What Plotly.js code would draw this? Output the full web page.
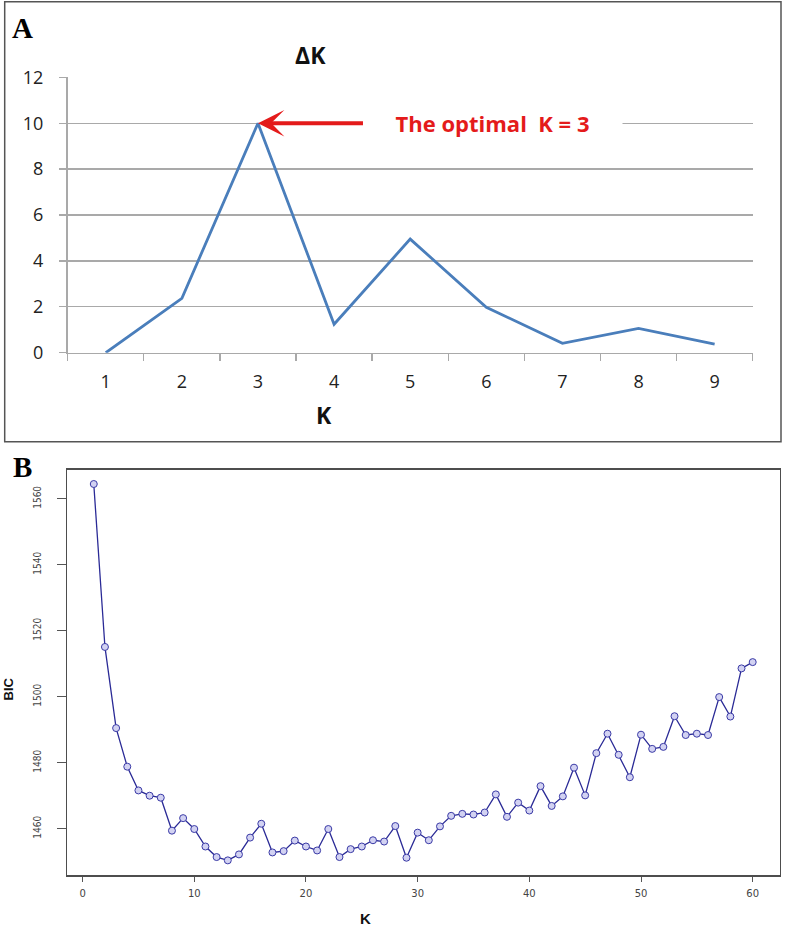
<!DOCTYPE html>
<html>
<head>
<meta charset="utf-8">
<script src="https://cdn.plot.ly/plotly-3.0.1.min.js"></script>
<style>
  html, body { margin: 0; padding: 0; background: #ffffff; }
  #chart { width: 787px; height: 926px; }
</style>
</head>
<body>
<div id="chart"></div>
<script>
// ---- Panel A: Delta K by K ----
const kA = ['1', '2', '3', '4', '5', '6', '7', '8', '9'];
const deltaK = [0, 2.37, 10.0, 1.24, 4.95, 1.98, 0.41, 1.06, 0.37];
const optimalK = '3';
const yTicksA = [0, 2, 4, 6, 8, 10, 12];

// ---- Panel B: BIC by K ----
const kB = [1, 2, 3, 4, 5, 6, 7, 8, 9, 10,
            11, 12, 13, 14, 15, 16, 17, 18, 19, 20,
            21, 22, 23, 24, 25, 26, 27, 28, 29, 30,
            31, 32, 33, 34, 35, 36, 37, 38, 39, 40,
            41, 42, 43, 44, 45, 46, 47, 48, 49, 50,
            51, 52, 53, 54, 55, 56, 57, 58, 59, 60];
const bic = [1564.5, 1515.1, 1490.5, 1478.8, 1471.6, 1470.0, 1469.4, 1459.4, 1463.2, 1459.9,
             1454.6, 1451.4, 1450.4, 1452.2, 1457.3, 1461.5, 1452.8, 1453.2, 1456.4, 1454.6,
             1453.4, 1459.9, 1451.4, 1453.8, 1454.6, 1456.5, 1456.1, 1460.8, 1451.2, 1458.8,
             1456.5, 1460.7, 1463.9, 1464.5, 1464.3, 1464.9, 1470.4, 1463.6, 1467.9, 1465.5,
             1472.9, 1466.9, 1469.8, 1478.5, 1470.1, 1482.9, 1488.8, 1482.4, 1475.6, 1488.5,
             1484.2, 1484.8, 1494.1, 1488.4, 1488.8, 1488.4, 1499.9, 1494.0, 1508.6, 1510.5];
const xTicksB = [0, 10, 20, 30, 40, 50, 60];
const yTicksB = [1460, 1480, 1500, 1520, 1540, 1560];

const W = 787, H = 926;
const px = v => v / W;          // pixel -> paper x
const py = v => 1 - v / H;      // pixel -> paper y

const gridGray = '#a9a9a9';
const fontA = '"Open Sans", Lato, "Liberation Sans", sans-serif';

// category axes take the category's position index for annotations
const optIdx = kA.indexOf(optimalK);

const traceA = {
  x: kA, y: deltaK, xaxis: 'x', yaxis: 'y',
  type: 'scatter', mode: 'lines',
  line: { color: '#4a7ebb', width: 2.8 },
  hoverinfo: 'x+y'
};

const traceB = {
  x: kB, y: bic, xaxis: 'x2', yaxis: 'y2',
  type: 'scatter', mode: 'lines+markers',
  line: { color: '#2a2a96', width: 1.3 },
  marker: { symbol: 'circle', size: 7, color: '#d2d2f2',
            line: { color: '#3a3aa6', width: 1 } },
  hoverinfo: 'x+y'
};

const layout = {
  width: W, height: H,
  margin: { l: 0, r: 0, t: 0, b: 0 },
  paper_bgcolor: '#ffffff',
  plot_bgcolor: '#ffffff',
  showlegend: false,
  xaxis: {
    domain: [px(67.7), px(752.7)], anchor: 'y',
    type: 'category', tickson: 'boundaries',
    range: [-0.5, kA.length - 0.5],
    ticks: 'outside', ticklen: 7, tickcolor: gridGray, tickwidth: 1.3,
    showline: true, linecolor: gridGray, linewidth: 1.3,
    showgrid: false, zeroline: false,
    tickfont: { family: fontA, size: 18, color: '#222222' },
    ticklabelstandoff: 12
  },
  yaxis: {
    domain: [py(352.7), py(77.3)], anchor: 'x',
    range: [0, 12], tickvals: yTicksA,
    showgrid: true, gridcolor: gridGray, gridwidth: 1.3,
    ticks: 'outside', ticklen: 7.5, tickcolor: gridGray, tickwidth: 1.3,
    showline: true, linecolor: gridGray, linewidth: 1.3,
    zeroline: false,
    tickfont: { family: fontA, size: 18, color: '#222222' },
    ticklabelstandoff: 12
  },
  xaxis2: {
    domain: [px(67.3), px(779.5)], anchor: 'y2',
    range: [-1.37, 62.4], tickvals: xTicksB,
    ticks: 'outside', ticklen: 5, tickcolor: '#555555', tickwidth: 1,
    showline: true, mirror: true, linecolor: '#4d4d4d', linewidth: 1.5,
    showgrid: false, zeroline: false,
    tickfont: { family: '"DejaVu Sans", Verdana, sans-serif', size: 10, color: '#444444' },
    ticklabelstandoff: 3
  },
  yaxis2: {
    domain: [py(875), py(469.5)], anchor: 'x2',
    range: [1445.96, 1568.9], tickvals: yTicksB,
    tickangle: -90,
    ticks: 'outside', ticklen: 9, tickcolor: '#555555', tickwidth: 1,
    showline: true, mirror: true, linecolor: '#4d4d4d', linewidth: 1.5,
    showgrid: false, zeroline: false,
    tickfont: { family: '"DejaVu Sans Condensed", "Liberation Sans Narrow", "Liberation Sans", sans-serif', size: 10, color: '#444444' },
    ticklabelstandoff: 12
  },
  shapes: [
    { type: 'rect', xref: 'paper', yref: 'paper',
      x0: px(4.7), x1: px(781), y0: py(441.7), y1: py(1.7),
      line: { color: '#555555', width: 1.5 }, fillcolor: 'rgba(0,0,0,0)' }
  ],
  annotations: [
    { text: '<b>A</b>', xref: 'paper', yref: 'paper', x: px(22.5), y: py(28.3),
      xanchor: 'center', yanchor: 'middle', showarrow: false,
      font: { family: '"Liberation Serif", "Times New Roman", serif', size: 29, color: '#000000' } },
    { text: '<b>B</b>', xref: 'paper', yref: 'paper', x: px(22), y: py(466.7),
      xanchor: 'center', yanchor: 'middle', showarrow: false,
      font: { family: '"Liberation Serif", "Times New Roman", serif', size: 29, color: '#000000' } },
    { text: '<b>ΔK</b>', xref: 'paper', yref: 'paper', x: px(310.5), y: py(55),
      xanchor: 'center', yanchor: 'middle', showarrow: false,
      font: { family: fontA, size: 23, color: '#111111' } },
    { text: '<b>K</b>', xref: 'paper', yref: 'paper', x: px(324), y: py(415),
      xanchor: 'center', yanchor: 'middle', showarrow: false,
      font: { family: fontA, size: 23, color: '#111111' } },
    // red label with arrow pointing at the optimal K
    { text: '<b>The optimal  K = 3</b>', xref: 'x', yref: 'y',
      x: optIdx, y: deltaK[optIdx],
      showarrow: true, axref: 'pixel', ayref: 'pixel', ax: 235, ay: 0,
      arrowhead: 3, arrowsize: 1.1, arrowwidth: 4, arrowcolor: '#e41b1b', standoff: 0,
      bgcolor: '#ffffff', width: 253, borderpad: 3,
      font: { family: fontA, size: 22, color: '#e41b1b' } },
    { text: '<b>BIC</b>', xref: 'paper', yref: 'paper', x: px(7.5), y: py(689),
      xanchor: 'center', yanchor: 'middle', showarrow: false, textangle: -90,
      font: { family: '"Liberation Sans", Arial, sans-serif', size: 13, color: '#111111' } },
    { text: '<b>K</b>', xref: 'paper', yref: 'paper', x: px(365), y: py(918),
      xanchor: 'center', yanchor: 'middle', showarrow: false,
      font: { family: '"Liberation Sans", Arial, sans-serif', size: 15, color: '#111111' } }
  ]
};

Plotly.newPlot('chart', [traceA, traceB], layout, { staticPlot: true, displayModeBar: false });
</script>
</body>
</html>
